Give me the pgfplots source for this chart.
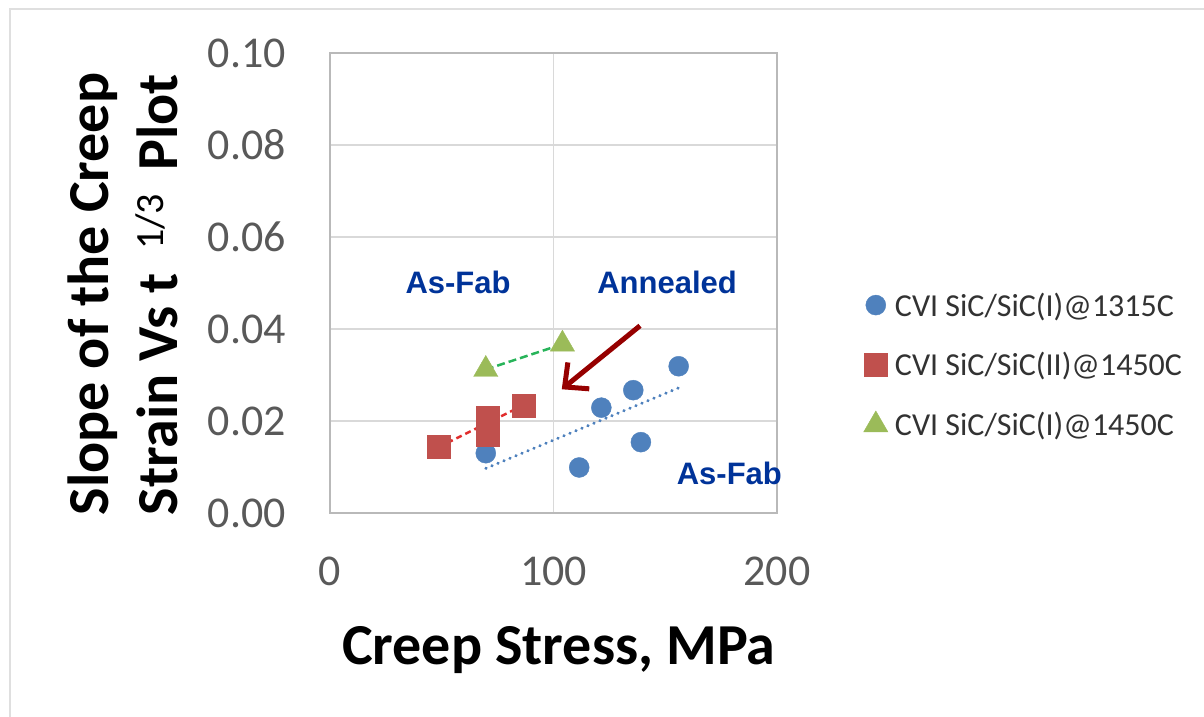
\documentclass[border=0pt]{standalone}
\usepackage{pgfplots}
\pgfplotsset{compat=1.18}
\usepackage{fontspec}
\usepackage{graphicx}
\setmainfont{Carlito}
\newfontfamily\arialfont{Liberation Sans}
\usetikzlibrary{arrows.meta}
\definecolor{cblue}{RGB}{79,129,189}
\definecolor{cred}{RGB}{192,80,77}
\definecolor{cgreen}{RGB}{155,187,89}
\definecolor{tblue}{RGB}{79,129,189}
\definecolor{tred}{RGB}{225,45,45}
\definecolor{tgreen}{RGB}{40,180,90}
\definecolor{annblue}{RGB}{0,51,153}
\definecolor{arrowred}{RGB}{150,0,0}
\definecolor{ticklab}{RGB}{89,89,89}
\definecolor{legtext}{RGB}{50,50,50}
\begin{document}
\begin{tikzpicture}
\draw[gray!25, line width=1.5pt] (10pt,-10pt) -- (10pt,708pt) -- (1220pt,708pt);
\begin{axis}[
  at={(330pt,204pt)}, anchor=south west,
  scale only axis, width=447pt, height=460pt,
  xmin=0, xmax=200, ymin=0, ymax=0.1,
  xtick={0,100,200}, ytick={0,0.02,0.04,0.06,0.08,0.1},
  scaled y ticks=false,
  /pgf/number format/assume math mode=true,
  tick label style={font=\fontsize{44}{44}\selectfont, text=ticklab},
  yticklabel style={/pgf/number format/fixed, /pgf/number format/fixed zerofill, /pgf/number format/precision=2, inner sep=0pt, xshift=-44pt},
  xticklabel style={inner sep=0pt, yshift=-44pt},
  major tick length=0pt,
  grid=major, major grid style={draw=gray!30, line width=1.5pt},
  axis line style={draw=gray!55, line width=1.5pt},
  clip=false,
  xlabel={Creep Stress, MPa},
  xlabel style={font=\bfseries\fontsize{58}{60}\selectfont, at={(axis description cs:0.512,-0.330)}, anchor=base, inner sep=0pt},
  ylabel={Slope of the Creep\\Strain Vs t\hspace{0.4em}\raisebox{14pt}{\fontsize{40}{40}\selectfont\mdseries 1/3}\hspace{0.4em}Plot},
  ylabel style={font=\bfseries\fontsize{58}{69}\selectfont, align=left, at={(axis description cs:-0.4642,0.476)}, anchor=center, inner sep=0pt},
  legend style={at={(axis description cs:1.1935,0.3217)}, anchor=west, draw=none, fill=none, font=\fontsize{32}{38}\selectfont, text=legtext, row sep=31pt, column sep=5pt, inner sep=0pt},
  legend cell align=left,
]
\addplot[only marks, mark=*, mark size=10pt, mark options={draw=cblue, fill=cblue}] coordinates {
  (69.7,0.0130) (111.5,0.0099) (121.4,0.0229) (135.7,0.0267) (139.1,0.0154) (156.0,0.0319)
};
\addlegendentry{CVI SiC/SiC(I)@1315C}
\addplot[only marks, mark=square*, mark size=11.5pt, mark options={draw=cred, fill=cred}] coordinates {
  (48.5,0.0144) (70.4,0.0207) (70.4,0.0170) (86.8,0.0234)
};
\addlegendentry{CVI SiC/SiC(II)@1450C}
\addplot[only marks, mark=triangle*, mark size=14pt, mark options={draw=cgreen, fill=cgreen}] coordinates {
  (69.7,0.0312) (104.0,0.0367)
};
\addlegendentry{CVI SiC/SiC(I)@1450C}
\addplot[tblue, line width=3pt, line cap=round, dash pattern=on 0.5pt off 6pt, forget plot] coordinates {(69.7,0.0097) (156.0,0.0272)};
\addplot[tred, line width=2.5pt, dash pattern=on 6pt off 4pt, forget plot] coordinates {(48.5,0.0143) (86.8,0.0235)};
\addplot[tgreen, line width=2.5pt, dash pattern=on 8pt off 4pt, forget plot] coordinates {(69.7,0.0312) (104.0,0.0367)};
\node[font=\arialfont\bfseries\fontsize{31}{31}\selectfont, text=annblue] at (axis cs:57.3,0.0502) {As-Fab};
\node[font=\arialfont\bfseries\fontsize{31}{31}\selectfont, text=annblue] at (axis cs:150.8,0.0502) {Annealed};
\node[font=\arialfont\bfseries\fontsize{31}{31}\selectfont, text=annblue] at (axis cs:178.7,0.0087) {As-Fab};
\draw[arrowred, line width=5pt, -{Straight Barb[length=18pt,width=34pt]}] (axis cs:138.7,0.0407) -- (axis cs:103.7,0.0269);
\end{axis}
\pgfresetboundingbox
\path[use as bounding box] (0,0) rectangle (1204pt,717pt);
\end{tikzpicture}
\end{document}
